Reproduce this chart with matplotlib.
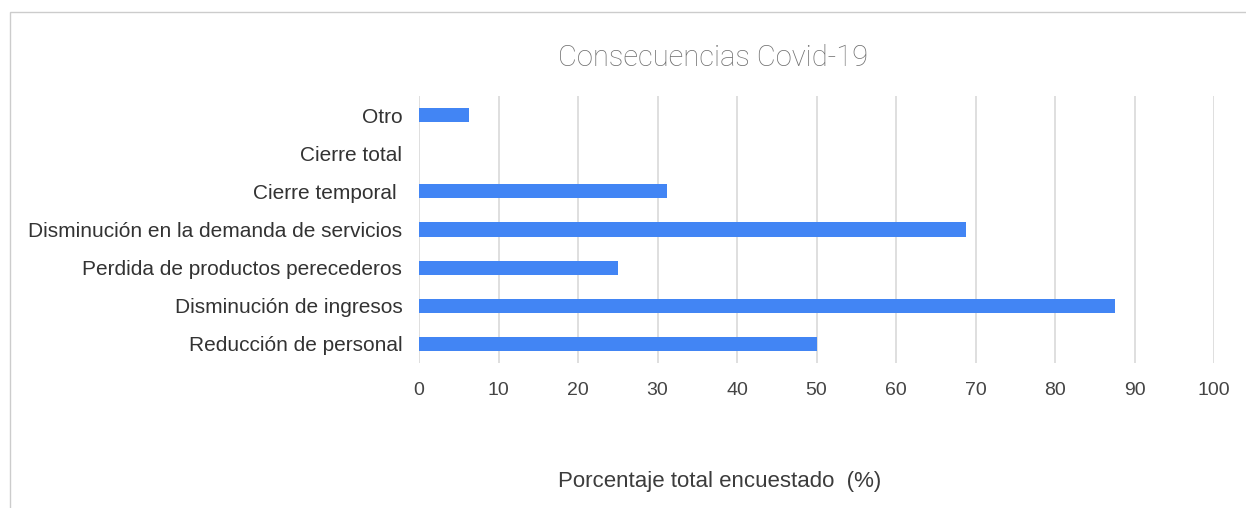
import matplotlib.pyplot as plt
from matplotlib.patches import Rectangle

categories = ['Reducción de personal', 'Disminución de ingresos',
              'Perdida de productos perecederos', 'Disminución en la demanda de servicios',
              'Cierre temporal ', 'Cierre total', 'Otro']
values = [50, 87.5, 25, 68.75, 31.25, 0, 6.25]
xticks = [0, 10, 20, 30, 40, 50, 60, 70, 80, 90, 100]

fig = plt.figure(figsize=(12.46, 5.08), dpi=100)
ax = fig.add_axes([419 / 1246, 1 - 363 / 508, 795 / 1246, 267 / 508])

# chart frame (cropped at right and bottom)
fig.patches.append(Rectangle((10 / 1246, -0.1), 1.2, 1 - 12 / 508 + 0.1,
                             transform=fig.transFigure, fill=False,
                             edgecolor='#cccccc', linewidth=1))

ypos = range(len(categories))
ax.barh(ypos, values, height=0.37, color='#4285f4', zorder=3)
ax.set_yticks(list(ypos))
ax.set_yticklabels(categories, fontsize=15, color='#333333', family='Liberation Sans')
ax.set_ylim(-0.5, len(categories) - 0.5)
ax.set_xlim(0, 100)
ax.set_xticks(xticks)
ax.set_xticklabels([str(t) for t in xticks], fontsize=14, color='#444444', family='Liberation Sans')
ax.tick_params(axis='y', length=0, pad=12)
ax.tick_params(axis='x', length=0, pad=14)
ax.grid(axis='x', color='#d9d9d9', linewidth=1.2, zorder=0)
for s in ax.spines.values():
    s.set_visible(False)

fig.text(713 / 1246, 1 - 58 / 508, 'Consecuencias Covid-19', ha='center', va='center',
         fontsize=21, color='#707070', family='Roboto', fontweight='light')
fig.text(720 / 1246, 1 - 481 / 508, 'Porcentaje total encuestado  (%)', ha='center', va='center',
         fontsize=16, color='#3c3c3c', family='Liberation Sans')

fig.savefig('out.png', dpi=100)
